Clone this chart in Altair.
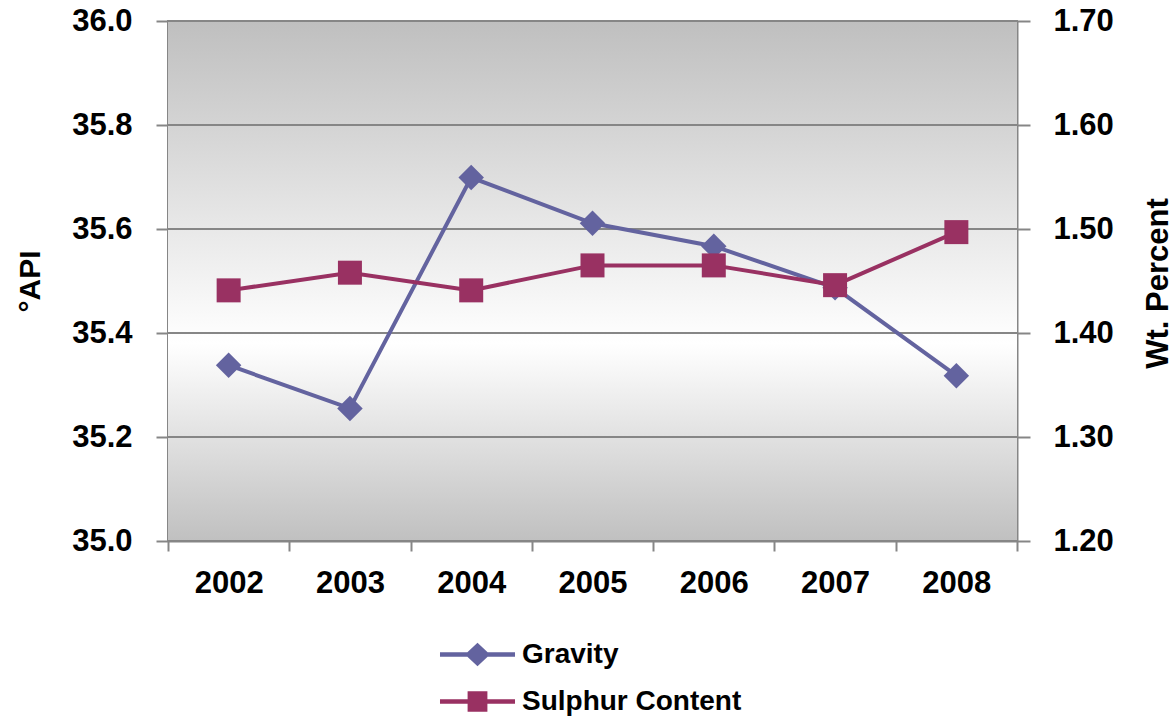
import altair as alt
import pandas as pd

# Annual averages: API gravity (left axis) and sulphur content (right axis)
years = ["2002", "2003", "2004", "2005", "2006", "2007", "2008"]
gravity = [35.338, 35.255, 35.699, 35.611, 35.567, 35.487, 35.318]
sulphur = [1.441, 1.458, 1.441, 1.465, 1.465, 1.446, 1.497]

series_names = ["Gravity", "Sulphur Content"]
series_colors = ["#63639f", "#993162"]

api_ticks = [35.0, 35.2, 35.4, 35.6, 35.8, 36.0]
wt_ticks = [1.20, 1.30, 1.40, 1.50, 1.60, 1.70]

# Legend glyphs: a line segment with the series marker in the middle.
# The segment runs past the unit box so the rows stay compact.
gravity_glyph = ("M-1.667,-0.1L-0.45,-0.1L0,-0.52L0.45,-0.1L1.667,-0.1L1.667,0.1"
                 "L0.45,0.1L0,0.52L-0.45,0.1L-1.667,0.1Z")
sulphur_glyph = ("M-1.667,-0.1L-0.44,-0.1L-0.44,-0.46L0.44,-0.46L0.44,-0.1L1.667,-0.1"
                 "L1.667,0.1L0.44,0.1L0.44,0.46L-0.44,0.46L-0.44,0.1L-1.667,0.1Z")

FONT = "Liberation Sans"
GRID = "#868686"
W, H = 849, 520

grav_df = pd.DataFrame({"year": years, "value": gravity})
sul_df = pd.DataFrame({"year": years, "value": sulphur})
tick_df = pd.DataFrame({"value": api_ticks})
leg_df = pd.DataFrame({"series": series_names})

x_enc = alt.X(
    "year:N",
    title=None,
    scale=alt.Scale(type="band", paddingInner=0, paddingOuter=0),
    axis=alt.Axis(
        tickBand="extent", labelAngle=0, grid=False,
        domainColor=GRID, domainWidth=2, tickColor=GRID, tickWidth=2, tickSize=10,
        labelFont=FONT, labelFontSize=31, labelFontWeight="bold", labelColor="black",
        labelPadding=17,
    ),
)

grav_y = alt.Y(
    "value:Q",
    scale=alt.Scale(domain=[35.0, 36.0], nice=False, zero=False),
    axis=alt.Axis(
        orient="left", values=api_ticks, format=".1f", grid=False,
        domainColor=GRID, domainWidth=2,
        tickColor=GRID, tickWidth=2, tickSize=12,
        labelFont=FONT, labelFontSize=31, labelFontWeight="bold", labelColor="black",
        labelPadding=24,
        title="°API", titleFont=FONT, titleFontSize=30, titleFontWeight="bold",
        titleColor="black", titleAngle=270, titleX=-138, titleY=260,
        titleAlign="center", titleBaseline="middle",
    ),
)

sul_y = alt.Y(
    "value:Q",
    scale=alt.Scale(domain=[1.2, 1.7], nice=False, zero=False),
    axis=alt.Axis(
        orient="right", values=wt_ticks, format=".2f", grid=False,
        domainColor=GRID, domainWidth=2, tickColor=GRID, tickWidth=2, tickSize=13,
        labelFont=FONT, labelFontSize=31, labelFontWeight="bold", labelColor="black",
        labelPadding=23,
        title="Wt. Percent", titleFont=FONT, titleFontSize=31, titleFontWeight="bold",
        titleColor="black", titleAngle=270, titleX=141, titleY=262,
        titleAlign="center", titleBaseline="middle",
    ),
)

# Plot-area fill: grey at the edges, brightening to white below the middle
background_fill = alt.LinearGradient(
    gradient="linear", x1=0, x2=0, y1=0, y2=1,
    stops=[
        alt.GradientStop(offset=0, color="#bfbfbf"),
        alt.GradientStop(offset=0.62, color="#ffffff"),
        alt.GradientStop(offset=1, color="#c0c0c0"),
    ],
)
background = alt.Chart(pd.DataFrame({"panel": [0]})).mark_rect(
    color=background_fill
).encode(x=alt.value(0), x2=alt.value(W), y=alt.value(0), y2=alt.value(H))

# Horizontal gridlines at the °API tick values
grid = alt.Chart(tick_df).mark_rule(color=GRID, strokeWidth=2).encode(y=grav_y)

grav_base = alt.Chart(grav_df).encode(x=x_enc, y=grav_y)
grav_layer = alt.layer(
    grid,
    grav_base.mark_line(color=series_colors[0], strokeWidth=4),
    grav_base.mark_point(shape="diamond", filled=True, size=650,
                         color=series_colors[0], opacity=1),
)

sul_base = alt.Chart(sul_df).encode(x=x_enc, y=sul_y)
sul_layer = alt.layer(
    sul_base.mark_line(color=series_colors[1], strokeWidth=4),
    sul_base.mark_point(shape="square", filled=True, size=576,
                        color=series_colors[1], opacity=1),
)

legend_cfg = alt.Legend(
    orient="none", legendX=287, legendY=611, title=None, direction="vertical",
    padding=0, symbolOffset=0, symbolSize=2025, symbolOpacity=1,
    symbolStrokeWidth=0, labelOffset=22, rowPadding=10, labelLimit=400,
    labelFont=FONT, labelFontSize=28, labelFontWeight="bold", labelColor="black",
)

legend_layer = alt.Chart(leg_df).mark_point(filled=True, opacity=0, size=2025).encode(
    color=alt.Color("series:N",
                    scale=alt.Scale(domain=series_names, range=series_colors),
                    legend=legend_cfg),
    shape=alt.Shape("series:N",
                    scale=alt.Scale(domain=series_names,
                                    range=[gravity_glyph, sulphur_glyph]),
                    legend=legend_cfg),
)

chart = (
    alt.layer(background, grav_layer, sul_layer, legend_layer)
    .resolve_scale(y="independent")
    .properties(
        width=W, height=H,
        autosize=alt.AutoSizeParams(type="none"),
        padding={"left": 168, "top": 21, "right": 158, "bottom": 176},
        background="white",
    )
    .configure_view(stroke=GRID, strokeWidth=2)
)

chart.save("out.html", embed_options={"renderer": "svg", "actions": False})
